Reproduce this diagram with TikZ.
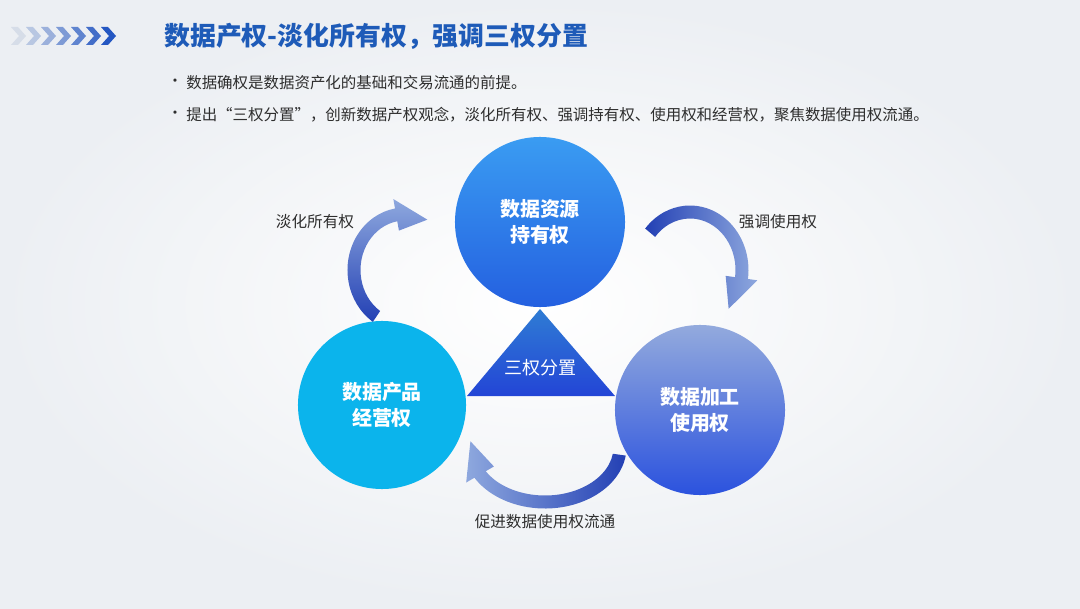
\documentclass[tikz,border=0pt]{standalone}
\usepackage{fontspec}
\setmainfont{Noto Sans CJK SC}
\usetikzlibrary{calc}
\definecolor{titleblue}{HTML}{1E5BB8}
\definecolor{textgray}{HTML}{2E2E2E}
\definecolor{arrowdark}{HTML}{2340B4}
\definecolor{arrowlight}{HTML}{8EA8DE}
\definecolor{holdtop}{HTML}{3A9CF2}
\definecolor{holdbot}{HTML}{2460E0}
\definecolor{usetop}{HTML}{93AADD}
\definecolor{usebot}{HTML}{2B52DE}
\definecolor{operfill}{HTML}{0BB4EC}
\definecolor{tritop}{HTML}{2F7CD4}
\definecolor{tribot}{HTML}{2345D6}
\definecolor{chevlight}{HTML}{D6DDE8}
\definecolor{chevdark}{HTML}{2457C2}
\definecolor{bggray}{HTML}{ECEFF3}

\tikzset{
	rightsnode/.style={circle, text=white, align=center, inner sep=0pt, font=\bfseries\fontsize{14.2}{18.5}\selectfont},
	sidelabel/.style={text=textgray, inner sep=0pt, font=\fontsize{11.1}{13}\selectfont},
	bulletline/.style={text=textgray, anchor=west, inner sep=0pt, font=\fontsize{11}{13}\selectfont}
}

% thick curved arrow: centre, x radius, y radius, tail angle, body end angle, tip angle, shading
\newcommand{\sweeparrow}[7]{%
	\pgfmathsetmacro{\rxo}{#2+6.5}\pgfmathsetmacro{\ryo}{#3+6.5}%
	\pgfmathsetmacro{\rxi}{#2-6.5}\pgfmathsetmacro{\ryi}{#3-6.5}%
	\pgfmathsetmacro{\rxh}{#2+16}\pgfmathsetmacro{\ryh}{#3+16}%
	\pgfmathsetmacro{\rxb}{#2-16}\pgfmathsetmacro{\ryb}{#3-16}%
	\shade[#7] ($(#1)+({\rxo*cos(#4)},{\ryo*sin(#4)})$)
		arc[start angle=#4, end angle=#5, x radius=\rxo, y radius=\ryo]
		-- ($(#1)+({\rxh*cos(#5)},{\ryh*sin(#5)})$)
		-- ($(#1)+({#2*cos(#6)},{#3*sin(#6)})$)
		-- ($(#1)+({\rxb*cos(#5)},{\ryb*sin(#5)})$)
		-- ($(#1)+({\rxi*cos(#5)},{\ryi*sin(#5)})$)
		arc[start angle=#5, end angle=#4, x radius=\rxi, y radius=\ryi]
		-- cycle;}

\begin{document}
\begin{tikzpicture}[x=0.025cm, y=0.025cm]
	\useasboundingbox (0,0) rectangle (1080,608);
	%Background:
	\shade[inner color=white, outer color=bggray] (0,0) rectangle (1080,608);
	%Header:
	\foreach \i in {0,...,6}{
		\pgfmathsetmacro{\mixpct}{100*\i/6}
		\fill[chevdark!\mixpct!chevlight] (11+\i*15,581) -- (18+\i*15,581) -- (26+\i*15,572) -- (18+\i*15,563) -- (11+\i*15,563) -- (19+\i*15,572) -- cycle;
	}
	\node[anchor=west, inner sep=0pt, text=titleblue, font=\bfseries\fontsize{18.4}{21}\selectfont] (title) at (164,572) {数据产权-淡化所有权，强调三权分置};
	\node[bulletline] (dot1) at (167,525) {•};
	\node[bulletline] (bullet1) at (186,525) {数据确权是数据资产化的基础和交易流通的前提。};
	\node[bulletline] (dot2) at (167,493) {•};
	\node[bulletline] (bullet2) at (186,493) {提出“三权分置”，创新数据产权观念，淡化所有权、强调持有权、使用权和经营权，聚焦数据使用权流通。};
	%Triangle:
	\coordinate (apex) at (540,299);
	\coordinate (baseright) at (615,212);
	\coordinate (baseleft) at (467,212);
	\shade[top color=tritop, bottom color=tribot] (apex) -- (baseright) -- (baseleft) -- cycle;
	\node[text=white, inner sep=0pt, font=\fontsize{12.8}{15}\selectfont] (core) at (540,240) {三权分置};
	%Nodes:
	\node[rightsnode, minimum size=4.25cm, top color=holdtop, bottom color=holdbot] (holder) at (540,386) {数据资源\\持有权};
	\node[rightsnode, minimum size=4.2cm, fill=operfill] (operator) at (382,203) {数据产品\\经营权};
	\node[rightsnode, minimum size=4.25cm, top color=usetop, bottom color=usebot] (user) at (700,198) {数据加工\\使用权};
	%Edges:
	\coordinate (weakenc) at (405,338);
	\coordinate (stressc) at (690,338);
	\coordinate (flowc) at (545,161);
	\sweeparrow{weakenc}{51}{56}{236}{100}{64}{top color=arrowlight, bottom color=arrowdark}
	\sweeparrow{stressc}{52}{58}{140}{-8}{-42}{left color=arrowdark, right color=arrowlight}
	\sweeparrow{flowc}{75}{55}{-8}{-150}{-186}{left color=arrowlight, right color=arrowdark}
	%Labels:
	\node[sidelabel] (weaken) at (315,386) {淡化所有权};
	\node[sidelabel] (stress) at (778,386) {强调使用权};
	\node[sidelabel] (flow) at (545,86) {促进数据使用权流通};
\end{tikzpicture}
\end{document}
